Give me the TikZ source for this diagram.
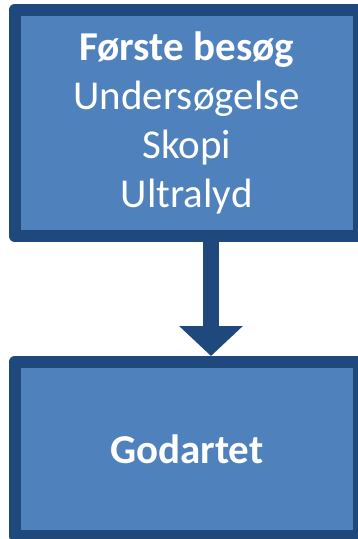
\documentclass[tikz,border=0pt]{standalone}
\usepackage{fontspec}
\setmainfont{Carlito}
\usetikzlibrary{arrows.meta}
\begin{document}
\begin{tikzpicture}[x=1pt,y=1pt,font=\fontsize{41}{49}\selectfont]
	\definecolor{boxfill}{RGB}{79,129,189}
	\definecolor{boxline}{RGB}{31,73,125}
	\tikzset{stepbox/.style={draw=boxline,fill=boxfill,line width=12pt,line join=round,text=white,inner sep=0pt,minimum width=344.5pt,align=center}}
	\useasboundingbox (0,0) rectangle (358,-539);
	\clip (0,0) rectangle (358,-539);

	\node[stepbox,minimum height=226pt] (visit) at (186.75,-123) {\textbf{Første besøg}\\Undersøgelse\\Skopi\\Ultralyd};
	\node[stepbox,minimum height=174pt] (result) at (186.75,-449) {\textbf{Godartet}};

	%arrow
	\coordinate (mid) at (211,0);
	\draw[boxline,line width=16pt,-{Triangle[length=30pt,width=62pt]}] (visit.south -| mid) -- (result.north -| mid);
\end{tikzpicture}
\end{document}
